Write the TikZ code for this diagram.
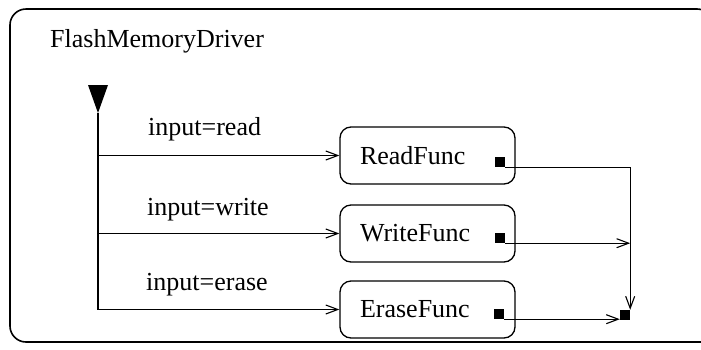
\documentclass[tikz,border=0pt]{standalone}
\usepackage{fontspec}
\setmainfont{Liberation Serif}
\usetikzlibrary{arrows.meta,calc}
\tikzset{
  txt/.style={font=\fontsize{26}{30}\selectfont},
  lbl/.style={txt, inner sep=0pt},
  outer/.style={draw, line width=1.6pt, rounded corners=16pt},
  func/.style={txt, draw, rounded corners=11pt, line width=1.3pt,
    minimum width=175pt, minimum height=57pt, text width=135pt,
    inner xsep=20pt, inner ysep=0pt, align=left},
  port/.style={fill=black, minimum size=10pt, inner sep=0pt},
  flow/.style={line width=1.1pt, -{Straight Barb[length=12pt,width=9pt,line width=1.1pt]}},
}
\begin{document}
\begin{tikzpicture}[x=1pt,y=-1pt]
  \useasboundingbox (0,0) rectangle (701,349);
  \begin{scope}
    \clip (0,0) rectangle (701,349);
    % enclosing state, its right side runs past the page edge
    \draw[outer] (713,40) |- (10,9) |- (730,342);
  \end{scope}
  \node[lbl, anchor=base west] (title) at (50,47) {FlashMemoryDriver};

  % sub-states
  \node[func] (read)  at (427.5,155.5) {ReadFunc};
  \node[func] (write) at (427.5,233.5) {WriteFunc};
  \node[func] (erase) at (427.5,309.5) {EraseFunc};

  % exit points and the joining point
  \node[port] (rp) at (500,162) {};
  \node[port] (wp) at (500,238) {};
  \node[port] (ep) at (499,314) {};
  \node[port] (junc) at (625,315) {};

  % initial marker
  \coordinate (init) at (98,113);
  \fill (init) -- ++(-10,-28) -- ++(20,0) -- cycle;

  % branches from the initial marker
  \draw[flow] (init) |- (read.west);
  \draw[flow] (init) |- (write.west);
  \draw[flow] (init) |- (erase.west);
  \node[lbl, anchor=base west] (lread)  at (148,135) {input=read};
  \node[lbl, anchor=base west] (lwrite) at (147,215) {input=write};
  \node[lbl, anchor=base west] (lerase) at (146,290) {input=erase};

  % exits into the joining point
  \draw[flow] (rp.south east) -| (junc.north east);
  \draw[flow] (wp.south east) -- (wp.south east -| junc.east);
  \draw[flow] (ep.south east) -- (ep.south east -| junc.west);
\end{tikzpicture}
\end{document}
